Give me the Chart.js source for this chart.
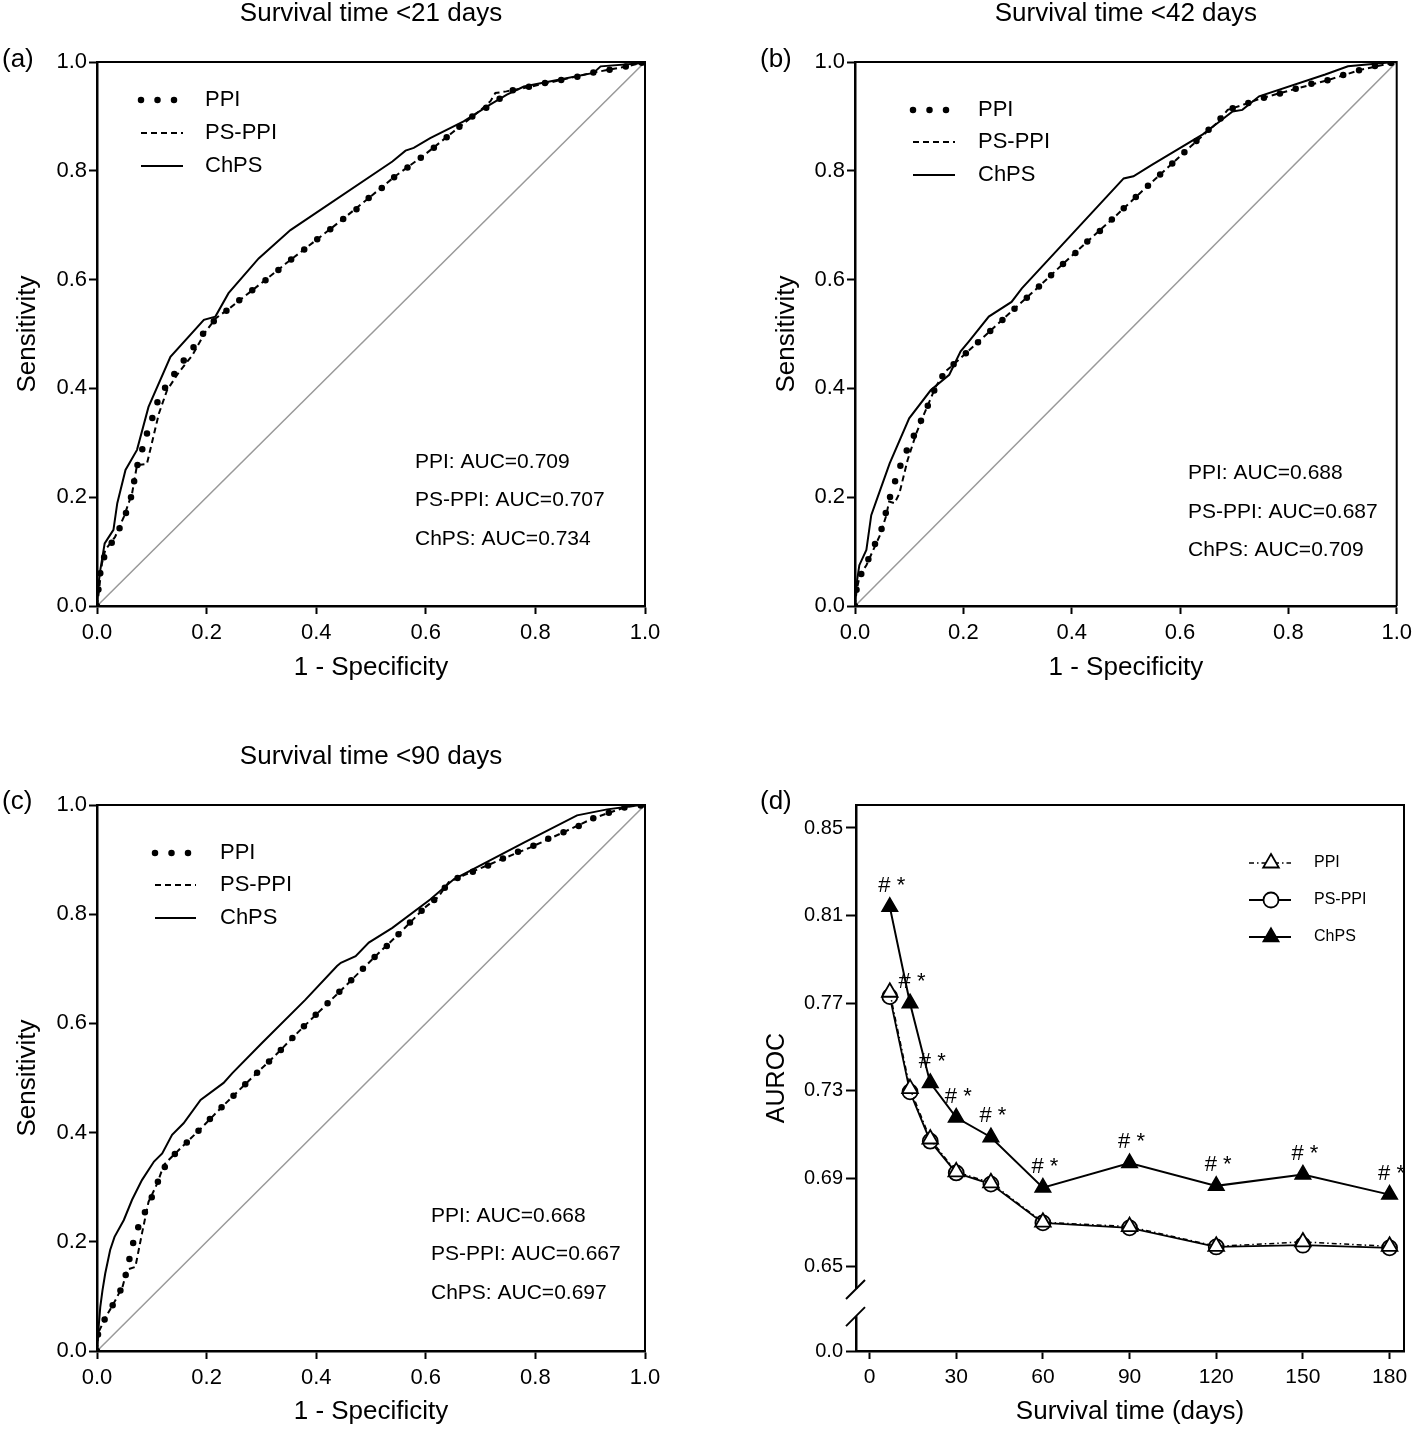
<!DOCTYPE html>
<html>
<head>
<meta charset="utf-8">
<script src="https://cdn.jsdelivr.net/npm/chart.js@4.4.1/dist/chart.umd.min.js"></script>
<style>
body { margin: 0; background: #fff; width: 1418px; height: 1429px; position: relative; overflow: hidden; }
canvas { position: absolute; }
</style>
</head>
<body>
<canvas id="chartA" width="709" height="700" style="left:0;top:0"></canvas>
<canvas id="chartB" width="709" height="700" style="left:709px;top:0"></canvas>
<canvas id="chartC" width="709" height="686" style="left:0;top:743px"></canvas>
<canvas id="chartD" width="709" height="686" style="left:709px;top:743px"></canvas>
<script>
// --- dados ---
const rocTicks = [0, 0.2, 0.4, 0.6, 0.8, 1.0];
const diagX = [0, 1];
const diagY = [0, 1];

// (a) survival < 21 days
const aChpsX = [0, 0.003, 0.006, 0.014, 0.030, 0.037, 0.052, 0.073, 0.094, 0.134, 0.195, 0.216, 0.240, 0.295, 0.353, 0.539, 0.563, 0.578, 0.608, 0.669, 0.718, 0.748, 0.779, 0.840, 0.906, 0.919, 0.998, 1];
const aChpsY = [0, 0.042, 0.066, 0.115, 0.140, 0.189, 0.250, 0.287, 0.366, 0.458, 0.526, 0.532, 0.575, 0.639, 0.691, 0.817, 0.837, 0.842, 0.860, 0.891, 0.922, 0.940, 0.955, 0.967, 0.980, 0.992, 0.998, 1];
const aPpiX = [0, 0.003, 0.007, 0.016, 0.032, 0.046, 0.058, 0.066, 0.070, 0.080, 0.088, 0.099, 0.108, 0.122, 0.140, 0.158, 0.177, 0.196, 0.217, 0.244, 0.268, 0.293, 0.320, 0.344, 0.369, 0.394, 0.420, 0.446, 0.472, 0.496, 0.522, 0.544, 0.572, 0.596, 0.623, 0.648, 0.672, 0.698, 0.726, 0.747, 0.779, 0.811, 0.843, 0.873, 0.903, 0.937, 0.967, 1];
const aPpiY = [0, 0.035, 0.069, 0.100, 0.124, 0.153, 0.184, 0.215, 0.247, 0.278, 0.308, 0.339, 0.370, 0.398, 0.425, 0.451, 0.477, 0.504, 0.528, 0.549, 0.569, 0.588, 0.608, 0.629, 0.648, 0.668, 0.688, 0.709, 0.728, 0.750, 0.770, 0.790, 0.810, 0.828, 0.849, 0.870, 0.890, 0.910, 0.923, 0.946, 0.952, 0.960, 0.966, 0.972, 0.980, 0.986, 0.992, 1];
const aPsPpiX = [0, 0.003, 0.009, 0.015, 0.033, 0.049, 0.064, 0.073, 0.091, 0.100, 0.113, 0.128, 0.149, 0.174, 0.198, 0.217, 0.244, 0.293, 0.344, 0.394, 0.446, 0.496, 0.544, 0.596, 0.648, 0.698, 0.718, 0.727, 0.747, 0.779, 0.843, 0.903, 0.967, 1];
const aPsPpiY = [0, 0.023, 0.078, 0.103, 0.127, 0.164, 0.207, 0.259, 0.261, 0.299, 0.354, 0.397, 0.429, 0.461, 0.504, 0.529, 0.549, 0.588, 0.629, 0.668, 0.709, 0.750, 0.790, 0.828, 0.870, 0.910, 0.928, 0.943, 0.946, 0.952, 0.966, 0.980, 0.992, 1];
const aucA = ['PPI: AUC=0.709', 'PS-PPI: AUC=0.707', 'ChPS: AUC=0.734'];

// (b) survival < 42 days
const bChpsX = [0, 0.002, 0.004, 0.008, 0.021, 0.030, 0.040, 0.064, 0.100, 0.140, 0.174, 0.195, 0.210, 0.247, 0.289, 0.308, 0.496, 0.514, 0.548, 0.642, 0.667, 0.697, 0.715, 0.746, 0.868, 0.910, 0.995, 1];
const bChpsY = [0, 0.029, 0.048, 0.075, 0.103, 0.167, 0.195, 0.262, 0.345, 0.397, 0.425, 0.468, 0.486, 0.532, 0.559, 0.584, 0.786, 0.790, 0.811, 0.867, 0.886, 0.909, 0.912, 0.937, 0.977, 0.992, 1.0, 1];
const bPpiX = [0, 0, 0.006, 0.020, 0.033, 0.047, 0.055, 0.063, 0.073, 0.083, 0.096, 0.110, 0.124, 0.137, 0.150, 0.167, 0.191, 0.215, 0.239, 0.264, 0.287, 0.311, 0.335, 0.358, 0.382, 0.406, 0.429, 0.454, 0.478, 0.501, 0.525, 0.548, 0.572, 0.597, 0.620, 0.644, 0.668, 0.688, 0.718, 0.749, 0.781, 0.811, 0.842, 0.874, 0.904, 0.935, 0.965, 1];
const bPpiY = [0, 0.014, 0.048, 0.075, 0.106, 0.134, 0.164, 0.195, 0.226, 0.256, 0.287, 0.316, 0.345, 0.374, 0.405, 0.431, 0.452, 0.474, 0.496, 0.518, 0.540, 0.561, 0.583, 0.604, 0.627, 0.648, 0.670, 0.691, 0.714, 0.736, 0.758, 0.779, 0.801, 0.824, 0.845, 0.868, 0.888, 0.912, 0.922, 0.933, 0.941, 0.950, 0.960, 0.967, 0.977, 0.986, 0.994, 1];
const bPsPpiX = [0, 0.003, 0.009, 0.021, 0.046, 0.057, 0.063, 0.073, 0.082, 0.097, 0.113, 0.128, 0.149, 0.167, 0.191, 0.239, 0.287, 0.335, 0.382, 0.429, 0.478, 0.525, 0.572, 0.620, 0.668, 0.688, 0.718, 0.749, 0.811, 0.874, 0.935, 1];
const bPsPpiY = [0, 0.029, 0.057, 0.075, 0.130, 0.164, 0.192, 0.189, 0.207, 0.268, 0.317, 0.354, 0.403, 0.431, 0.452, 0.496, 0.540, 0.583, 0.627, 0.670, 0.714, 0.758, 0.801, 0.845, 0.888, 0.912, 0.922, 0.933, 0.950, 0.967, 0.986, 1];
const aucB = ['PPI: AUC=0.688', 'PS-PPI: AUC=0.687', 'ChPS: AUC=0.709'];

// (c) survival < 90 days
const cChpsX = [0, 0.002, 0.006, 0.010, 0.015, 0.024, 0.032, 0.049, 0.064, 0.082, 0.104, 0.119, 0.137, 0.158, 0.189, 0.231, 0.247, 0.301, 0.380, 0.438, 0.445, 0.472, 0.496, 0.539, 0.608, 0.651, 0.779, 0.876, 0.931, 0.992, 1];
const cChpsY = [0, 0.032, 0.081, 0.111, 0.142, 0.185, 0.209, 0.240, 0.277, 0.313, 0.347, 0.362, 0.396, 0.417, 0.460, 0.491, 0.509, 0.564, 0.643, 0.705, 0.711, 0.723, 0.748, 0.775, 0.827, 0.864, 0.931, 0.981, 0.992, 1.0, 1];
const cPpiX = [0, 0.002, 0.016, 0.032, 0.047, 0.055, 0.062, 0.070, 0.082, 0.096, 0.108, 0.120, 0.139, 0.163, 0.186, 0.207, 0.230, 0.254, 0.277, 0.300, 0.323, 0.346, 0.368, 0.391, 0.414, 0.437, 0.460, 0.483, 0.507, 0.530, 0.553, 0.575, 0.598, 0.623, 0.642, 0.669, 0.700, 0.730, 0.759, 0.790, 0.818, 0.849, 0.878, 0.906, 0.937, 0.967, 1];
const cPpiY = [0, 0.033, 0.062, 0.090, 0.119, 0.149, 0.182, 0.214, 0.243, 0.272, 0.302, 0.332, 0.358, 0.381, 0.404, 0.426, 0.449, 0.472, 0.495, 0.517, 0.539, 0.562, 0.585, 0.608, 0.630, 0.653, 0.675, 0.698, 0.722, 0.743, 0.766, 0.789, 0.812, 0.832, 0.859, 0.871, 0.883, 0.897, 0.911, 0.922, 0.936, 0.949, 0.961, 0.976, 0.987, 0.997, 1];
const cPsPpiX = [0, 0.002, 0.016, 0.032, 0.047, 0.055, 0.070, 0.082, 0.094, 0.110, 0.122, 0.139, 0.186, 0.230, 0.277, 0.323, 0.368, 0.414, 0.460, 0.507, 0.553, 0.598, 0.623, 0.642, 0.669, 0.730, 0.790, 0.849, 0.906, 0.967, 1];
const cPsPpiY = [0, 0.033, 0.062, 0.090, 0.119, 0.149, 0.154, 0.215, 0.273, 0.307, 0.341, 0.358, 0.404, 0.449, 0.495, 0.539, 0.585, 0.630, 0.675, 0.722, 0.766, 0.812, 0.832, 0.859, 0.871, 0.897, 0.922, 0.949, 0.976, 0.997, 1];
const aucC = ['PPI: AUC=0.668', 'PS-PPI: AUC=0.667', 'ChPS: AUC=0.697'];

// (d) AUROC x survival time
const days = [7, 14, 21, 30, 42, 60, 90, 120, 150, 180];
const dPpi = [0.775, 0.731, 0.708, 0.693, 0.688, 0.670, 0.668, 0.659, 0.661, 0.659];
const dPsPpi = [0.773, 0.7295, 0.707, 0.6925, 0.6874, 0.6697, 0.6674, 0.6587, 0.6595, 0.6583];
const dChps = [0.814, 0.770, 0.7336, 0.7178, 0.7088, 0.6858, 0.697, 0.6866, 0.6918, 0.6826];
const dXTicks = [0, 30, 60, 90, 120, 150, 180];
const dYTicks = [0.65, 0.69, 0.73, 0.77, 0.81, 0.85];
const dBreakValue = 0.6112; // posição do "0.0" abaixo da quebra do eixo
const dMarks = '# *';

const FONT = '"Liberation Sans", Arial, sans-serif';
Chart.defaults.font.family = FONT;
Chart.defaults.color = '#000';

const pts = (xs, ys) => xs.map((x, i) => ({ x: x, y: ys[i] }));

const rocStyles = {
    'PPI': { borderColor: '#000', borderWidth: 6.5, borderDash: [0, 16.5], borderCapStyle: 'round' },
    'PS-PPI': { borderColor: '#000', borderWidth: 2, borderDash: [6, 4] },
    'ChPS': { borderColor: '#000', borderWidth: 2 }
};

function linha(label, data, estilo) {
    return Object.assign({ label: label, data: data, showLine: true, pointRadius: 0, tension: 0, fill: false }, estilo);
}

const decorPlugin = {
    id: 'decor',
    afterDraw(chart, args, o) {
        const ctx = chart.ctx, a = chart.chartArea;
        ctx.save();
        // moldura de cima e da direita
        ctx.strokeStyle = '#000'; ctx.lineWidth = 2; ctx.setLineDash([]);
        ctx.beginPath(); ctx.moveTo(a.left, a.top); ctx.lineTo(a.right, a.top); ctx.lineTo(a.right, a.bottom); ctx.stroke();

        ctx.fillStyle = '#000';
        ctx.textBaseline = 'middle';
        ctx.font = '26px ' + FONT;
        ctx.textAlign = 'left';
        ctx.fillText(o.letter, o.letterX, o.letterY);
        if (o.title) {
            ctx.textAlign = 'center';
            ctx.fillText(o.title, (a.left + a.right) / 2, o.titleY);
        }

        // legenda
        o.legend.forEach((nome, i) => {
            const ds = chart.data.datasets.find(d => d.label === nome);
            const y = o.legY[i];
            ctx.strokeStyle = '#000';
            ctx.lineWidth = ds.borderWidth;
            ctx.lineCap = ds.borderCapStyle || 'butt';
            ctx.setLineDash(ds.borderDash || []);
            ctx.beginPath(); ctx.moveTo(o.legX0, y); ctx.lineTo(o.legX1, y); ctx.stroke();
            ctx.setLineDash([]); ctx.lineCap = 'butt';
            if (ds.pointStyle && ds.pointRadius > 0) {
                desenharMarcador(ctx, ds.pointStyle, ds.pointRadius, ds.pointBackgroundColor, ds.pointBorderWidth, o.legMarkX, y);
            }
            ctx.fillStyle = '#000';
            ctx.font = o.legFont + 'px ' + FONT;
            ctx.textAlign = 'left';
            ctx.fillText(nome, o.legTextX, y);
        });

        if (o.auc) {
            ctx.font = '21px ' + FONT;
            ctx.textAlign = 'left';
            o.auc.forEach((t, i) => ctx.fillText(t, o.aucX, o.aucY[i]));
        }

        if (o.quebra) {
            const ys = chart.scales.y;
            const y0 = ys.getPixelForValue(dYTicks[0]);
            const y1 = ys.getPixelForValue(dBreakValue);
            const g0 = y0 + (y1 - y0) * 0.27, g1 = y0 + (y1 - y0) * 0.59;
            ctx.fillStyle = '#fff';
            ctx.fillRect(a.left - 3, g0, 6, g1 - g0);
            ctx.strokeStyle = '#000'; ctx.lineWidth = 2;
            [g0, g1].forEach(g => { ctx.beginPath(); ctx.moveTo(a.left - 10, g + 10); ctx.lineTo(a.left + 9, g - 9); ctx.stroke(); });
        }

        if (o.marcas) {
            const idx = chart.data.datasets.findIndex(d => d.label === 'ChPS');
            const meta = chart.getDatasetMeta(idx);
            ctx.fillStyle = '#000';
            ctx.font = '22px ' + FONT;
            ctx.textAlign = 'center';
            meta.data.forEach(p => ctx.fillText(dMarks, p.x + 2, p.y - 21));
        }
        ctx.restore();
    }
};

function desenharMarcador(ctx, estilo, r, fundo, borda, x, y) {
    ctx.beginPath();
    if (estilo === 'circle') {
        ctx.arc(x, y, r, 0, Math.PI * 2);
    } else {
        for (let k = 0; k < 3; k++) {
            const ang = k * 2 * Math.PI / 3;
            const px = x + Math.sin(ang) * r, py = y - Math.cos(ang) * r;
            if (k === 0) ctx.moveTo(px, py); else ctx.lineTo(px, py);
        }
        ctx.closePath();
    }
    ctx.fillStyle = fundo; ctx.fill();
    ctx.strokeStyle = '#000'; ctx.lineWidth = borda; ctx.stroke();
}

function eixoComum(extra) {
    return Object.assign({
        type: 'linear',
        grid: { display: true, drawOnChartArea: false, drawTicks: true, tickLength: 8, tickColor: '#000', tickWidth: 2 },
        border: { display: true, color: '#000', width: 2.5 }
    }, extra);
}

function criarRoc(id, ppi, psPpi, chps, d) {
    const ctx = document.getElementById(id).getContext('2d');
    return new Chart(ctx, {
        type: 'scatter',
        data: {
            datasets: [
                linha('ChPS', pts(chps[0], chps[1]), rocStyles['ChPS']),
                linha('PS-PPI', pts(psPpi[0], psPpi[1]), rocStyles['PS-PPI']),
                linha('PPI', pts(ppi[0], ppi[1]), rocStyles['PPI']),
                linha('diag', pts(diagX, diagY), { borderColor: '#999', borderWidth: 1.5 })
            ]
        },
        options: {
            responsive: false, animation: false, devicePixelRatio: 1,
            layout: { padding: { top: 62, right: d.padRight, left: 0, bottom: 0 } },
            plugins: { legend: { display: false }, tooltip: { enabled: false }, decor: d },
            scales: {
                x: eixoComum({
                    min: 0, max: 1,
                    afterBuildTicks: s => { s.ticks = rocTicks.map(v => ({ value: v })); },
                    afterFit: s => { s.height = d.xHeight; },
                    ticks: { font: { size: 22 }, color: '#000', padding: 6, maxRotation: 0, autoSkip: false, callback: v => v.toFixed(1) },
                    title: { display: true, text: '1 - Specificity', font: { size: 26 }, color: '#000', padding: { top: 0, bottom: d.xTitlePad } }
                }),
                y: eixoComum({
                    min: 0, max: 1,
                    afterBuildTicks: s => { s.ticks = rocTicks.map(v => ({ value: v })); },
                    afterFit: s => { s.width = d.yWidth; },
                    ticks: { font: { size: 22 }, color: '#000', padding: 2, autoSkip: false, callback: v => v.toFixed(1) },
                    title: { display: true, text: 'Sensitivity', font: { size: 26 }, color: '#000', padding: { top: d.yTitlePad, bottom: 0 } }
                })
            }
        },
        plugins: [decorPlugin]
    });
}

criarRoc('chartA', [aPpiX, aPpiY], [aPsPpiX, aPsPpiY], [aChpsX, aChpsY], {
    letter: '(a)', letterX: 2, letterY: 60, title: 'Survival time <21 days', titleY: 14,
    legend: ['PPI', 'PS-PPI', 'ChPS'], legX0: 141, legX1: 183, legTextX: 205, legY: [100, 133, 166], legFont: 22,
    auc: aucA, aucX: 415, aucY: [462, 500, 539],
    padRight: 64, xHeight: 94, yWidth: 97, xTitlePad: 16.4, yTitlePad: 12.4
});
criarRoc('chartB', [bPpiX, bPpiY], [bPsPpiX, bPsPpiY], [bChpsX, bChpsY], {
    letter: '(b)', letterX: 51, letterY: 60, title: 'Survival time <42 days', titleY: 14,
    legend: ['PPI', 'PS-PPI', 'ChPS'], legX0: 204, legX1: 246, legTextX: 269, legY: [110, 142, 175], legFont: 22,
    auc: aucB, aucX: 479, aucY: [473, 512, 550],
    padRight: 15, xHeight: 94, yWidth: 146, xTitlePad: 16.4, yTitlePad: 62.4
});
criarRoc('chartC', [cPpiX, cPpiY], [cPsPpiX, cPsPpiY], [cChpsX, cChpsY], {
    letter: '(c)', letterX: 2, letterY: 59, title: 'Survival time <90 days', titleY: 14,
    legend: ['PPI', 'PS-PPI', 'ChPS'], legX0: 155, legX1: 196, legTextX: 220, legY: [110, 142, 175], legFont: 22,
    auc: aucC, aucX: 431, aucY: [473, 511, 550],
    padRight: 64, xHeight: 78, yWidth: 97, xTitlePad: 1.4, yTitlePad: 12.4
});

// (d)
const dStyles = {
    'PPI': { borderColor: '#000', borderWidth: 1.5, borderDash: [5, 3, 1.5, 3], pointStyle: 'triangle', pointRadius: 9, pointBackgroundColor: '#fff', pointBorderColor: '#000', pointBorderWidth: 1.8 },
    'PS-PPI': { borderColor: '#000', borderWidth: 1.8, pointStyle: 'circle', pointRadius: 7.5, pointBackgroundColor: '#fff', pointBorderColor: '#000', pointBorderWidth: 1.8 },
    'ChPS': { borderColor: '#000', borderWidth: 2, pointStyle: 'triangle', pointRadius: 9, pointBackgroundColor: '#000', pointBorderColor: '#000', pointBorderWidth: 1.5 }
};
const dDecor = {
    letter: '(d)', letterX: 51, letterY: 59, title: null,
    legend: ['PPI', 'PS-PPI', 'ChPS'], legX0: 540, legX1: 582, legMarkX: 562, legTextX: 605, legY: [120, 157, 194], legFont: 16,
    quebra: true, marcas: true
};
new Chart(document.getElementById('chartD').getContext('2d'), {
    type: 'scatter',
    data: {
        datasets: [
            Object.assign({ label: 'PPI', data: pts(days, dPpi), showLine: true, tension: 0 }, dStyles['PPI']),
            Object.assign({ label: 'PS-PPI', data: pts(days, dPsPpi), showLine: true, tension: 0 }, dStyles['PS-PPI']),
            Object.assign({ label: 'ChPS', data: pts(days, dChps), showLine: true, tension: 0 }, dStyles['ChPS'])
        ]
    },
    options: {
        responsive: false, animation: false, devicePixelRatio: 1,
        layout: { padding: { top: 62, right: 14, left: 0, bottom: 0 } },
        plugins: { legend: { display: false }, tooltip: { enabled: false }, decor: dDecor },
        scales: {
            x: eixoComum({
                min: -4.7, max: 185,
                afterBuildTicks: s => { s.ticks = dXTicks.map(v => ({ value: v })); },
                afterFit: s => { s.height = 78; },
                ticks: { font: { size: 21 }, color: '#000', padding: 6, maxRotation: 0, autoSkip: false },
                title: { display: true, text: 'Survival time (days)', font: { size: 26 }, color: '#000', padding: { top: 0, bottom: 1.4 } }
            }),
            y: eixoComum({
                min: dBreakValue, max: 0.8605,
                afterBuildTicks: s => { s.ticks = [dBreakValue].concat(dYTicks).map(v => ({ value: v })); },
                afterFit: s => { s.width = 147; },
                grid: { display: true, drawOnChartArea: false, drawTicks: true, tickLength: 10, tickColor: '#000', tickWidth: 2 },
                ticks: { font: { size: 20 }, color: '#000', padding: 3, autoSkip: false, callback: v => v === dBreakValue ? '0.0' : v.toFixed(2) },
                title: { display: true, text: 'AUROC', font: { size: 25 }, color: '#000', padding: { top: 53.4, bottom: 0 } }
            })
        }
    },
    plugins: [decorPlugin]
});
</script>
</body>
</html>
